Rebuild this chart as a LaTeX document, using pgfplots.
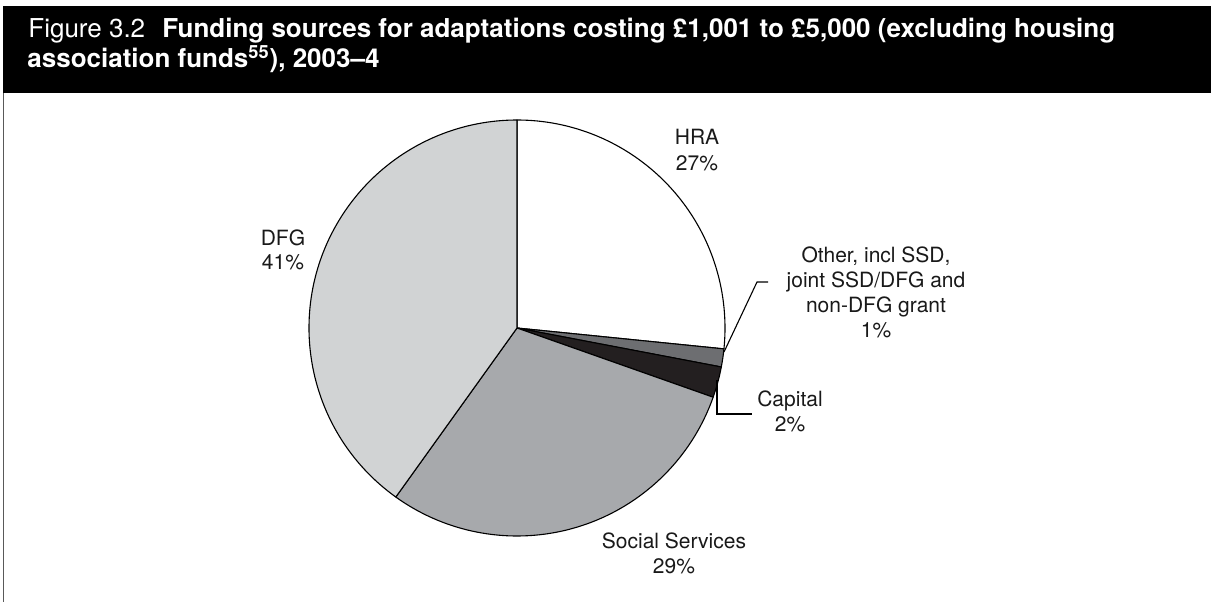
\documentclass[border=0pt]{standalone}
\usepackage{pgfplots}
\usepackage{pgfplotstable}
\pgfplotsset{compat=1.18}
\usepackage{fontspec}
\setmainfont{TeX Gyre Heros}
\definecolor{slice0}{HTML}{FFFFFF}
\definecolor{slice1}{HTML}{6D6E71}
\definecolor{slice2}{HTML}{231F20}
\definecolor{slice3}{HTML}{A7A9AC}
\definecolor{slice4}{HTML}{D1D3D4}
\pgfplotstableread{
label value
HRA 26.6
Other 1.4
Capital 2.4
SocialServices 29.5
DFG 40.1
}\piedata
\begin{document}
\begin{tikzpicture}
\gdef\cum{90}
\pgfplotsforeachungrouped \i in {0,...,4}{%
  \pgfplotstablegetelem{\i}{value}\of\piedata
  \pgfmathsetmacro\endang{\cum-\pgfplotsretval*3.6}%
  \expandafter\xdef\csname sa\i\endcsname{\cum}%
  \expandafter\xdef\csname ea\i\endcsname{\endang}%
  \xdef\cum{\endang}%
}
\begin{axis}[x=0.5pt, y=0.5pt, xmin=0, xmax=1211, ymin=0, ymax=602,
  hide axis, clip=false, at={(0,0)}, anchor=south west]
% title bar
\fill[black] (axis cs:3,509) rectangle (axis cs:1211,596);
\draw[black!65, line width=0.6pt] (axis cs:3.5,509) -- (axis cs:3.5,0);
\node[anchor=base west, text=white, inner sep=0pt, font=\fontsize{13}{15}\selectfont] at (axis cs:28,565) {Figure 3.2};
\node[anchor=base west, text=white, inner sep=0pt, font=\fontsize{13}{15}\selectfont\bfseries] at (axis cs:162,565) {Funding sources for adaptations costing £1,001 to £5,000 (excluding housing};
\node[anchor=base west, text=white, inner sep=0pt, font=\fontsize{13}{15}\selectfont\bfseries] at (axis cs:27,535) {association funds\textsuperscript{55}), 2003–4};
% pie slices
\pgfplotsinvokeforeach{0,...,4}{
  \fill[fill=slice#1, draw=black, line width=0.55pt, line join=round]
    (axis cs:517,274) -- ++(\csname sa#1\endcsname:104pt)
    arc[start angle=\csname sa#1\endcsname, end angle=\csname ea#1\endcsname, radius=104pt] -- cycle;
}
% leader lines
\draw[black, line width=0.55pt] (axis cs:724,250) -- (axis cs:757,320) -- (axis cs:768,320);
\draw[black, line width=0.55pt] (axis cs:717,222) -- (axis cs:717,188) -- (axis cs:752,188);
% labels
\tikzset{lbl/.style={anchor=base, inner sep=0pt, text=black!90, font=\fontsize{10.5}{12.5}\selectfont}}
\node[lbl] at (axis cs:697,458) {HRA};
\node[lbl] at (axis cs:697,432) {27\%};
\node[lbl] at (axis cs:283,357) {DFG};
\node[lbl] at (axis cs:283,333) {41\%};
\node[lbl] at (axis cs:876,340) {Other, incl SSD,};
\node[lbl] at (axis cs:876,315) {joint SSD/DFG and};
\node[lbl] at (axis cs:876,290) {non-DFG grant};
\node[lbl] at (axis cs:876,265) {1\%};
\node[lbl] at (axis cs:790,196) {Capital};
\node[lbl] at (axis cs:790,171) {2\%};
\node[lbl] at (axis cs:674,54) {Social Services};
\node[lbl] at (axis cs:674,29) {29\%};
\end{axis}
\pgfresetboundingbox
\useasboundingbox (0,0) rectangle (605.5pt,301pt);
\end{tikzpicture}
\end{document}
